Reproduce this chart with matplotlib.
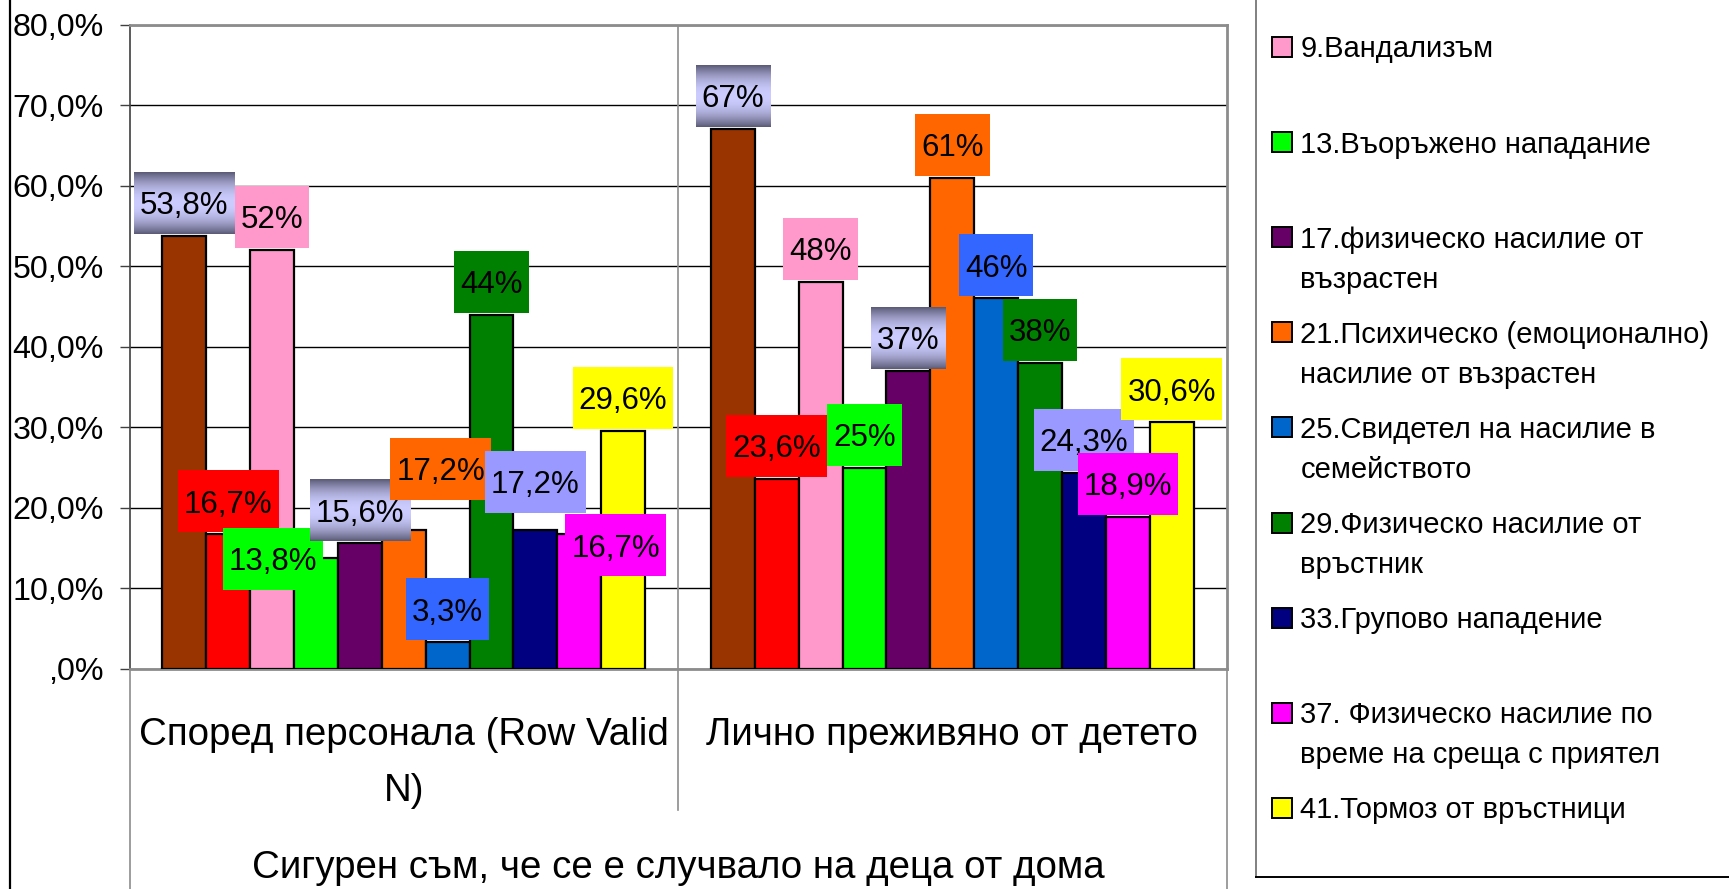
import numpy as np
import matplotlib
matplotlib.use("Agg")
import matplotlib.pyplot as plt
from matplotlib.patches import Rectangle
from matplotlib.lines import Line2D

plt.rcParams["font.family"] = ["Liberation Sans", "DejaVu Sans"]

# ---- data ----
group_labels = ["Според персонала (Row Valid\nN)", "Лично преживяно от детето"]
outer_label = "Сигурен съм, че се е случвало на деца от дома"

# first two legend entries are cut off at the top of the source picture
legend_names = [
    "9.Вандализъм",
    "13.Въоръжено нападание",
    "17.физическо насилие от\nвъзрастен",
    "21.Психическо (емоционално)\nнасилие от възрастен",
    "25.Свидетел на насилие в\nсемейството",
    "29.Физическо насилие от\nвръстник",
    "33.Групово нападение",
    "37. Физическо насилие по\nвреме на среща с приятел",
    "41.Тормоз от връстници",
]

staff_values = [53.8, 16.7, 52.0, 13.8, 15.6, 17.2, 3.3, 44.0, 17.2, 16.7, 29.6]
child_values = [67.0, 23.6, 48.0, 25.0, 37.0, 61.0, 46.0, 38.0, 24.3, 18.9, 30.6]

y_ticks = [0, 10, 20, 30, 40, 50, 60, 70, 80]

# ---- styles ----
bar_colors = ["#993300", "#FF0000", "#FF99CC", "#00FF00", "#660066", "#FF6600",
              "#0066CC", "#008000", "#000080", "#FF00FF", "#FFFF00"]
label_colors = ["grad", "#FF0000", "#FF99CC", "#00FF00", "grad", "#FF6600",
                "#3366FF", "#008000", "#9999FF", "#FF00FF", "#FFFF00"]
# labels that were dragged by hand: (group, series) -> (x shift in bar widths, box bottom value)
label_moves = {(0, 3): (-0.98, 9.8), (0, 5): (0.84, 21.0), (0, 8): (0.0, 19.4), (0, 9): (0.83, 11.5)}

W, H = 1729, 889
fig = plt.figure(figsize=(W / 100, H / 100), dpi=100)
ax_left, ax_right, ax_top, ax_bot = 129.5, 1226.5, 24.5, 669
ax = fig.add_axes([ax_left / W, 1 - ax_bot / H, (ax_right - ax_left) / W, (ax_bot - ax_top) / H])

n = len(staff_values)
bw = 1 / (n + 1.5)
series = [staff_values, child_values]
for g, vals in enumerate(series):
    xs = g + (np.arange(n) - (n - 1) / 2) * bw
    ax.bar(xs, vals, width=bw, color=bar_colors, edgecolor="black", linewidth=1.6, zorder=3)

ax.set_xlim(-0.5, 1.5)
ax.set_ylim(0, 80)
ax.set_xticks([])
ax.set_yticks(y_ticks)


def pct(v):
    s = f"{v:.1f}".replace(".", ",")
    return s[1:] if s.startswith("0") else s


ax.set_yticklabels([pct(v) + "%" for v in y_ticks], fontsize=23.2)
ax.tick_params(axis="y", length=7.2, width=1, pad=11.5, color="#404040")
ax.yaxis.grid(True, color="black", linewidth=1)
ax.set_axisbelow(True)
for side in ["top", "right", "bottom"]:
    ax.spines[side].set_color("#8c8c8c")
    ax.spines[side].set_linewidth(2)
ax.spines["left"].set_color("#404040")
ax.spines["left"].set_linewidth(1.2)

ax.axvline(0.5, color="#8c8c8c", linewidth=1.2, zorder=1)
ax.plot([0.5, 0.5], [0, -(810 - ax_bot) / (ax_bot - ax_top)], transform=ax.transAxes,
        color="#8c8c8c", linewidth=1.2, clip_on=False)
for xa in (0, 1):
    ax.plot([xa, xa], [0, -0.4], transform=ax.transAxes, color="#8c8c8c", linewidth=1.2, clip_on=False)

# ---- data labels ----
renderer = fig.canvas.get_renderer()
inv = ax.transData.inverted()
fs = 22.5
cap = 0.716 * fs * 100 / 72
box_h = 62
dark = np.array([0x5c, 0x5c, 0x78]) / 255
light = np.array([0xcc, 0xcc, 0xff]) / 255
tpos = np.linspace(0, 1, 64)
prof = 1 - np.abs(2 * tpos - 1) ** 2
grad = (dark[None, :] + (light - dark)[None, :] * prof[:, None])[:, None, :]

z = 10
for g, vals in enumerate(series):
    for i, v in enumerate(vals):
        txt = (f"{v:.0f}" if float(v).is_integer() else f"{v:.1f}".replace(".", ",")) + "%"
        xc = g + (i - (n - 1) / 2) * bw
        dx, bottom = label_moves.get((g, i), (0.0, None))
        if bottom is None:
            px, py = ax.transData.transform((xc + dx * bw, v))
            py += 2
        else:
            px, py = ax.transData.transform((xc + dx * bw, bottom))
        t = ax.text(0, 0, txt, fontsize=fs, ha="center", va="baseline", zorder=z + 1)
        tw = t.get_window_extent(renderer).width
        bx0, by0 = inv.transform((px - tw / 2 - 6, py))
        bx1, by1 = inv.transform((px + tw / 2 + 6, py + box_h))
        if label_colors[i] == "grad":
            ax.imshow(grad, extent=(bx0, bx1, by0, by1), aspect="auto", zorder=z,
                      interpolation="bilinear", clip_on=False)
        else:
            ax.add_patch(Rectangle((bx0, by0), bx1 - bx0, by1 - by0, facecolor=label_colors[i],
                                   edgecolor="none", zorder=z, clip_on=False))
        tx, ty = inv.transform((px, py + box_h / 2 - cap / 2))
        t.set_position((tx, ty))
        z += 2

ax.set_xlim(-0.5, 1.5)
ax.set_ylim(0, 80)


def fx(x):
    return x / W


def fy(y):
    return 1 - y / H


# ---- category labels ----
cat_fs = 27.7
cat_cap = 0.716 * cat_fs * 100 / 72
group_w = (ax_right - ax_left) / 2
for g, lab in enumerate(group_labels):
    cx = ax_left + group_w * (g + 0.5)
    for k, line in enumerate(lab.split("\n")):
        yc = 731 + 56 * k
        fig.text(fx(cx), fy(yc + cat_cap / 2), line, fontsize=cat_fs, ha="center", va="baseline")
fig.text(fx((ax_left + ax_right) / 2), fy(864 + cat_cap / 2), outer_label, fontsize=cat_fs,
         ha="center", va="baseline")

# ---- chart area / legend frames ----
fig.add_artist(Line2D([fx(10), fx(10)], [0, 1], color="black", linewidth=1.6))
fig.add_artist(Line2D([fx(1255.5), fx(1255.5)], [fy(877), 1], color="#808080", linewidth=1.4))
fig.add_artist(Line2D([fx(1255.5), 1], [fy(877), fy(877)], color="black", linewidth=1.4))

leg_fs = 21
leg_cap = 0.716 * leg_fs * 100 / 72
for k, name in enumerate(legend_names):
    yc = 47 + 95.1 * k
    color = bar_colors[k + 2]
    fig.add_artist(Rectangle((fx(1272), fy(yc + 10)), 20 / W, 20 / H, facecolor=color,
                             edgecolor="black", linewidth=1.4, transform=fig.transFigure))
    for j, line in enumerate(name.split("\n")):
        fig.text(fx(1300.5), fy(yc + 40 * j + leg_cap / 2), line, fontsize=leg_fs, ha="left", va="baseline")

fig.savefig("out.png", dpi=100)
